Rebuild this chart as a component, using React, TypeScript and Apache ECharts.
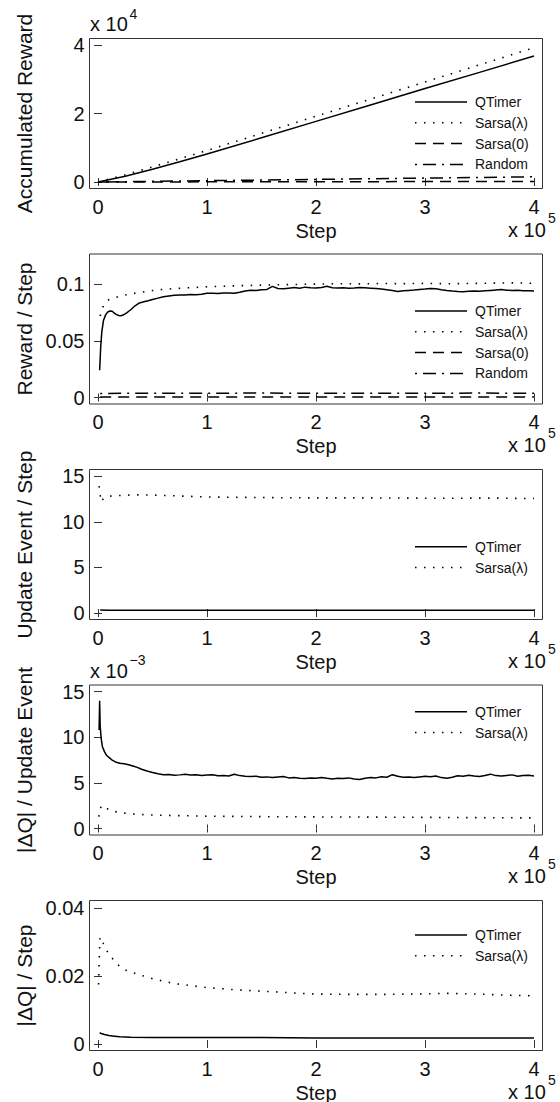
import React, { useEffect, useRef } from "react";
import * as echarts from "echarts";

// ---------------- DATA ----------------
const xTicks = [0, 100000, 200000, 300000, 400000];

// Panel 1: accumulated reward (real units; axis shows x 10^4)
const accSteps = [0, 25000, 50000, 75000, 100000, 150000, 200000, 250000, 300000, 350000, 400000];
const accQTimer = [0, 1700, 3700, 5900, 8200, 12900, 17700, 22500, 27300, 32000, 36800];
const accSarsaL = [0, 2100, 4400, 6800, 9200, 14200, 19200, 24200, 29200, 34200, 39200];
const accSarsa0 = [0, 10, 20, 30, 40, 60, 80, 100, 120, 140, 160];
const accRandom = [0, 95, 190, 285, 380, 570, 760, 950, 1140, 1330, 1520];

// Panel 2: reward / step
const rewardQTimer: [number, number][] = [
  [1500, 0.024], [2500, 0.045], [3500, 0.058], [5000, 0.068], [7000, 0.073], [9000, 0.0755],
  [11000, 0.0765], [13000, 0.0762], [15000, 0.0745], [17000, 0.0732], [19000, 0.0724],
  [21000, 0.0722], [23000, 0.0728], [26000, 0.0745], [30000, 0.0775], [34000, 0.081],
  [38000, 0.0835], [42000, 0.0845], [46000, 0.0855], [50000, 0.0866], [55000, 0.0878],
  [60000, 0.089], [65000, 0.0897], [70000, 0.0903], [75000, 0.0906], [80000, 0.0905],
  [85000, 0.0909], [90000, 0.0908], [95000, 0.0913], [100000, 0.092], [105000, 0.0922],
  [110000, 0.0919], [115000, 0.0924], [120000, 0.0923], [125000, 0.092], [130000, 0.093],
  [135000, 0.0941], [140000, 0.0947], [145000, 0.0946], [150000, 0.0952], [155000, 0.0955],
  [160000, 0.0982], [165000, 0.0963], [170000, 0.096], [175000, 0.0966], [180000, 0.0972],
  [185000, 0.0966], [190000, 0.0975], [195000, 0.097], [200000, 0.0968], [205000, 0.0972],
  [210000, 0.0983], [215000, 0.097], [220000, 0.0967], [225000, 0.0969], [230000, 0.0965],
  [235000, 0.0968], [240000, 0.0972], [245000, 0.097], [250000, 0.0966], [255000, 0.0962],
  [260000, 0.0958], [265000, 0.0952], [270000, 0.0945], [275000, 0.0937], [280000, 0.0942],
  [285000, 0.0946], [290000, 0.095], [295000, 0.0955], [300000, 0.0958], [305000, 0.0963],
  [310000, 0.096], [315000, 0.0952], [320000, 0.0946], [325000, 0.0941], [330000, 0.0937],
  [335000, 0.0935], [340000, 0.0939], [345000, 0.0941], [350000, 0.0938], [355000, 0.0942],
  [360000, 0.0946], [365000, 0.095], [370000, 0.0953], [375000, 0.0948], [380000, 0.0946],
  [385000, 0.0948], [390000, 0.0944], [395000, 0.0943], [400000, 0.0941],
];
const rewardSarsaL: [number, number][] = [
  [2000, 0.072], [3500, 0.0775], [5000, 0.081], [7000, 0.084], [10000, 0.0865], [15000, 0.088],
  [20000, 0.0895], [25000, 0.0905], [30000, 0.0915], [40000, 0.093], [50000, 0.0945],
  [60000, 0.0955], [70000, 0.0962], [80000, 0.0968], [100000, 0.0978], [120000, 0.0985],
  [140000, 0.099], [160000, 0.0995], [180000, 0.0998], [200000, 0.1002], [220000, 0.1005],
  [240000, 0.1004], [260000, 0.1007], [280000, 0.1006], [300000, 0.1008], [320000, 0.1005],
  [340000, 0.1007], [360000, 0.101], [380000, 0.1013], [400000, 0.1009],
];
const rewardSarsa0: [number, number][] = [
  [2000, 0.0004], [50000, 0.0004], [100000, 0.0004], [150000, 0.0004], [200000, 0.0004],
  [250000, 0.0004], [300000, 0.0004], [350000, 0.0004], [400000, 0.0004],
];
const rewardRandom: [number, number][] = [
  [2000, 0.0036], [50000, 0.0038], [100000, 0.0038], [150000, 0.0039], [200000, 0.0038],
  [250000, 0.0038], [300000, 0.0038], [350000, 0.0039], [400000, 0.0038],
];

// Panel 3: update events / step
const updQTimer: [number, number][] = [
  [2000, 0.33], [10000, 0.31], [50000, 0.3], [100000, 0.3], [150000, 0.29], [200000, 0.3],
  [250000, 0.3], [300000, 0.29], [350000, 0.3], [400000, 0.3],
];
const updSarsaL: [number, number][] = [
  [1000, 13.9], [1800, 13.3], [2600, 12.2], [4000, 12.4], [6000, 12.65], [9000, 12.8],
  [15000, 12.85], [25000, 12.92], [35000, 12.95], [50000, 12.93], [70000, 12.85],
  [100000, 12.72], [130000, 12.68], [160000, 12.65], [200000, 12.62], [240000, 12.63],
  [280000, 12.6], [320000, 12.58], [360000, 12.6], [400000, 12.55],
];

// Panel 4: |dQ| / update event (units of 10^-3)
const dqUpdQTimer: [number, number][] = [
  [1000, 10.8], [1500, 14.0], [2000, 11.2], [3000, 9.8], [4000, 9.0], [6000, 8.4], [8000, 8.0],
  [10000, 7.8], [13000, 7.5], [16000, 7.3], [20000, 7.15], [24000, 7.1], [28000, 7.0],
  [32000, 6.85], [36000, 6.7], [40000, 6.5], [45000, 6.3], [50000, 6.15], [55000, 6.0],
  [60000, 5.9], [65000, 5.92], [70000, 5.85], [75000, 5.88], [80000, 5.95], [85000, 5.86],
  [90000, 5.9], [95000, 5.82], [100000, 5.86], [105000, 5.9], [110000, 5.78], [115000, 5.8],
  [120000, 5.76], [125000, 5.95], [130000, 5.8], [135000, 5.72], [140000, 5.7], [145000, 5.74],
  [150000, 5.62], [155000, 5.66], [160000, 5.58], [165000, 5.64], [170000, 5.7], [175000, 5.55],
  [180000, 5.6], [185000, 5.52], [190000, 5.48], [195000, 5.55], [200000, 5.52], [205000, 5.58],
  [210000, 5.5], [215000, 5.44], [220000, 5.52], [225000, 5.48], [230000, 5.55], [235000, 5.42],
  [240000, 5.38], [245000, 5.52], [250000, 5.6], [255000, 5.55], [260000, 5.68], [265000, 5.62],
  [270000, 5.9], [275000, 5.72], [280000, 5.62], [285000, 5.65], [290000, 5.6], [295000, 5.66],
  [300000, 5.72], [305000, 5.68], [310000, 5.75], [315000, 5.58], [320000, 5.5], [325000, 5.62],
  [330000, 5.78], [335000, 5.72], [340000, 5.84], [345000, 5.76], [350000, 5.7], [355000, 5.82],
  [360000, 5.96], [365000, 5.8], [370000, 5.76], [375000, 5.82], [380000, 5.88], [385000, 5.72],
  [390000, 5.8], [395000, 5.84], [400000, 5.76],
];
const dqUpdSarsaL: [number, number][] = [
  [800, 1.3], [1500, 2.2], [3000, 2.35], [5000, 2.55], [8000, 2.2], [12000, 1.95], [20000, 1.75],
  [30000, 1.6], [45000, 1.5], [60000, 1.45], [80000, 1.4], [100000, 1.35], [150000, 1.3],
  [200000, 1.27], [250000, 1.25], [300000, 1.22], [350000, 1.19], [400000, 1.16],
];

// Panel 5: |dQ| / step
const dqStepQTimer: [number, number][] = [
  [1500, 0.0033], [3000, 0.0031], [6000, 0.0028], [10000, 0.0025], [15000, 0.0023],
  [20000, 0.0021], [30000, 0.002], [50000, 0.0019], [100000, 0.0019], [150000, 0.0019],
  [200000, 0.0018], [250000, 0.0018], [300000, 0.0018], [350000, 0.0018], [400000, 0.0018],
];
const dqStepSarsaL: [number, number][] = [
  [500, 0.0175], [900, 0.022], [1300, 0.027], [1800, 0.031], [3000, 0.0315], [5000, 0.0295],
  [8000, 0.0275], [11000, 0.026], [15000, 0.0245], [20000, 0.0228], [25000, 0.0218],
  [30000, 0.0212], [40000, 0.0202], [50000, 0.0192], [60000, 0.0185], [70000, 0.0178],
  [85000, 0.0172], [100000, 0.0166], [120000, 0.0161], [140000, 0.0157], [160000, 0.0154],
  [180000, 0.015], [200000, 0.0147], [230000, 0.0146], [260000, 0.0146], [290000, 0.0147],
  [320000, 0.0149], [350000, 0.0147], [380000, 0.0143], [400000, 0.0142],
];

// ---------------- LAYOUT / STYLE ----------------
const W = 560;
const H = 1102;
const FONT = "'Liberation Sans', Arial, Helvetica, sans-serif";
const FRAME_L = 89.5;
const FRAME_R = 542.5;
const X0 = 98;
const X4 = 534;
const FRAME_H = 150;
const INK = "#111";
const FRAME_COLOR = "#333";

const lineStyles: Record<string, any> = {
  "QTimer": { color: "#000", width: 1.5, type: "solid" },
  "Sarsa(λ)": { color: "#000", width: 1.6, type: [1.5, 7.5] },
  "Sarsa(0)": { color: "#000", width: 1.5, type: [11, 7] },
  "Random": { color: "#000", width: 1.5, type: [2, 6, 13, 6] },
};

type Panel = {
  frameTop: number;
  gridTopRel: number;
  yMax: number;
  yInterval: number;
  fmt: (v: number) => string;
  title: string;
  exp?: string;
  legendRows: number[];
  series: { name: string; data: [number, number][] }[];
};

const zip = (xs: number[], ys: number[]) => xs.map((x, i) => [x, ys[i]] as [number, number]);

const GRID_BOTTOM_REL = 143.5;

const panels: Panel[] = [
  {
    frameTop: 38.5, gridTopRel: 6.5,
    yMax: 40000, yInterval: 20000, fmt: (v) => String(Math.round(v / 1e4)),
    title: "Accumulated Reward", exp: "4", legendRows: [63.5, 84.3, 105.1, 125.9],
    series: [
      { name: "QTimer", data: zip(accSteps, accQTimer) },
      { name: "Sarsa(λ)", data: zip(accSteps, accSarsaL) },
      { name: "Sarsa(0)", data: zip(accSteps, accSarsa0) },
      { name: "Random", data: zip(accSteps, accRandom) },
    ],
  },
  {
    frameTop: 254, gridTopRel: 30.3,
    yMax: 0.1, yInterval: 0.05, fmt: (v) => String(Math.round(v * 100) / 100),
    title: "Reward / Step", legendRows: [57, 77.8, 98.6, 119.4],
    series: [
      { name: "QTimer", data: rewardQTimer },
      { name: "Sarsa(λ)", data: rewardSarsaL },
      { name: "Sarsa(0)", data: rewardSarsa0 },
      { name: "Random", data: rewardRandom },
    ],
  },
  {
    frameTop: 469.5, gridTopRel: 6.7,
    yMax: 15, yInterval: 5, fmt: (v) => String(v),
    title: "Update Event / Step", legendRows: [77.2, 98],
    series: [
      { name: "QTimer", data: updQTimer },
      { name: "Sarsa(λ)", data: updSarsaL },
    ],
  },
  {
    frameTop: 685, gridTopRel: 6.7,
    yMax: 15, yInterval: 5, fmt: (v) => String(v),
    title: "|ΔQ| / Update Event", exp: "−3", legendRows: [26.7, 47.5],
    series: [
      { name: "QTimer", data: dqUpdQTimer },
      { name: "Sarsa(λ)", data: dqUpdSarsaL },
    ],
  },
  {
    frameTop: 900.5, gridTopRel: 7.6,
    yMax: 0.04, yInterval: 0.02, fmt: (v) => String(Math.round(v * 100) / 100),
    title: "|ΔQ| / Step", legendRows: [34.5, 55.3],
    series: [
      { name: "QTimer", data: dqStepQTimer },
      { name: "Sarsa(λ)", data: dqStepSarsaL },
    ],
  },
];

function buildOption() {
  const grid: any[] = [];
  const xAxis: any[] = [];
  const yAxis: any[] = [];
  const series: any[] = [];
  const graphic: any[] = [];

  const tick = { show: true, inside: true, length: 4, lineStyle: { color: FRAME_COLOR, width: 1 } };

  panels.forEach((p, i) => {
    const frameBottom = p.frameTop + FRAME_H;
    const gridTop = p.frameTop + p.gridTopRel;
    const gridBottom = p.frameTop + GRID_BOTTOM_REL;
    grid.push({ left: X0, right: W - X4, top: gridTop, height: gridBottom - gridTop, containLabel: false });
    const xBase = {
      gridIndex: i, type: "value", min: xTicks[0], max: xTicks[xTicks.length - 1], interval: 100000,
      axisLine: { show: false }, axisTick: tick, splitLine: { show: false },
    };
    xAxis.push({
      ...xBase, position: "bottom", offset: frameBottom - gridBottom,
      axisLabel: { show: true, margin: 8.3, fontSize: 20, fontFamily: FONT, color: INK, formatter: (v: number) => String(v / 100000) },
    });
    xAxis.push({ ...xBase, position: "top", offset: gridTop - p.frameTop, axisLabel: { show: false } });
    const yBase = {
      gridIndex: i, type: "value", min: 0, max: p.yMax, interval: p.yInterval,
      axisLine: { show: false }, axisTick: tick, splitLine: { show: false },
    };
    yAxis.push({
      ...yBase, position: "left", offset: X0 - FRAME_L,
      axisLabel: { show: true, margin: 5, fontSize: 20, fontFamily: FONT, color: INK, formatter: p.fmt },
    });
    yAxis.push({ ...yBase, position: "right", offset: FRAME_R - X4, axisLabel: { show: false } });

    p.series.forEach((s) => {
      series.push({
        type: "line", name: s.name, xAxisIndex: 2 * i, yAxisIndex: 2 * i, data: s.data,
        showSymbol: false, symbol: "none", clip: false, silent: true,
        lineStyle: { ...lineStyles[s.name], cap: "butt" },
      });
    });

    // frame
    graphic.push({
      type: "rect", silent: true, z: 10,
      shape: { x: FRAME_L, y: p.frameTop, width: FRAME_R - FRAME_L, height: FRAME_H },
      style: { fill: "none", stroke: FRAME_COLOR, lineWidth: 1 },
    });
    // y title
    graphic.push({
      type: "text", silent: true, x: 24, y: p.frameTop + FRAME_H / 2, rotation: Math.PI / 2,
      style: { text: p.title, font: `21px ${FONT}`, fill: INK, textAlign: "center", textVerticalAlign: "middle" },
    });
    // x title
    graphic.push({
      type: "text", silent: true, x: (X0 + X4) / 2, y: frameBottom + 42,
      style: { text: "Step", font: `20px ${FONT}`, fill: INK, textAlign: "center", textVerticalAlign: "middle" },
    });
    // x 10^5
    graphic.push({
      type: "text", silent: true, x: 508, y: frameBottom + 41,
      style: { text: "x 10", font: `20px ${FONT}`, fill: INK, textAlign: "left", textVerticalAlign: "middle" },
    });
    graphic.push({
      type: "text", silent: true, x: 548, y: frameBottom + 29,
      style: { text: "5", font: `14px ${FONT}`, fill: INK, textAlign: "left", textVerticalAlign: "middle" },
    });
    // y exponent
    if (p.exp) {
      graphic.push({
        type: "text", silent: true, x: FRAME_L + 0.5, y: p.frameTop - 14.5,
        style: { text: "x 10", font: `20px ${FONT}`, fill: INK, textAlign: "left", textVerticalAlign: "middle" },
      });
      graphic.push({
        type: "text", silent: true, x: FRAME_L + 40, y: p.frameTop - 25,
        style: { text: p.exp, font: `14px ${FONT}`, fill: INK, textAlign: "left", textVerticalAlign: "middle" },
      });
    }
    // legend
    p.series.forEach((s, k) => {
      const y = p.frameTop + p.legendRows[k];
      const ls = lineStyles[s.name];
      graphic.push({
        type: "line", silent: true,
        shape: { x1: 415, y1: y, x2: 467, y2: y },
        style: { stroke: "#000", lineWidth: ls.width, lineDash: ls.type === "solid" ? null : ls.type, lineCap: "butt" },
      });
      graphic.push({
        type: "text", silent: true, x: 475, y,
        style: { text: s.name, font: `14px ${FONT}`, fill: INK, textAlign: "left", textVerticalAlign: "middle" },
      });
    });
  });

  return {
    animation: false,
    backgroundColor: "#fff",
    grid, xAxis, yAxis, series, graphic,
  };
}

export default function App() {
  const ref = useRef<HTMLDivElement>(null);
  useEffect(() => {
    document.body.style.margin = "0";
    const chart = echarts.init(ref.current!, undefined, { renderer: "svg" });
    chart.setOption(buildOption() as any);
    return () => chart.dispose();
  }, []);
  return <div ref={ref} style={{ width: W, height: H, background: "#fff" }} />;
}
